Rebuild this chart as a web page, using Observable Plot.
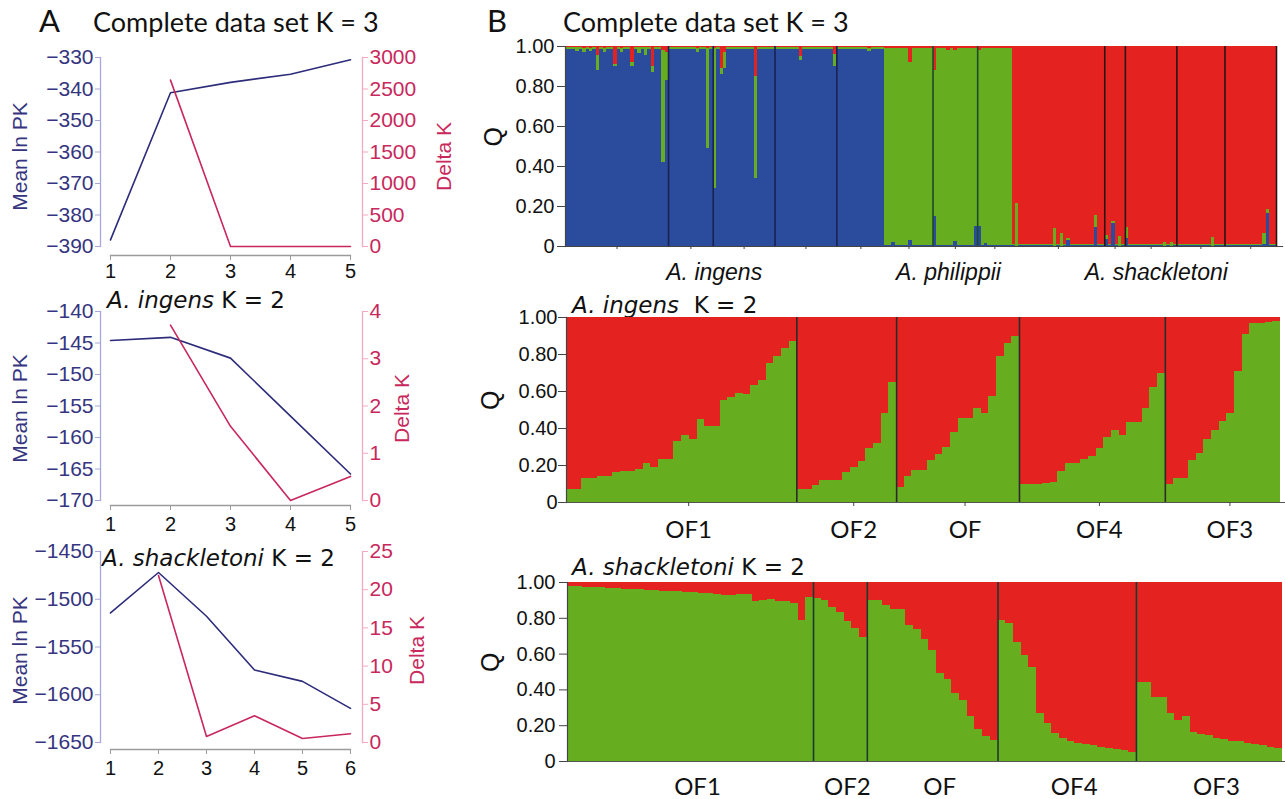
<!DOCTYPE html>
<html><head><meta charset="utf-8">
<script src="https://cdn.jsdelivr.net/npm/d3@7"></script>
<script src="https://cdn.jsdelivr.net/npm/@observablehq/plot@0.6"></script>
<style>
body{margin:0;background:#fff;}
#root{position:relative;width:1285px;height:799px;overflow:hidden;font-family:"Liberation Sans",Arial,sans-serif;}
.t{position:absolute;white-space:nowrap;line-height:1;color:#111;}
.lato{font-family:Lato,"Open Sans",sans-serif;}
.dv{font-family:"DejaVu Sans",sans-serif;}
</style></head><body>
<div id="root">
<div class="t lato" style="left:39px;top:5px;font-size:31px">A</div>
<div class="t lato" style="left:93px;top:8px;font-size:27px">Complete data set K = 3</div>
<div class="t dv" style="left:107px;top:289px;font-size:23px"><i>A. ingens</i> K = 2</div>
<div class="t dv" style="left:102px;top:547px;font-size:23px"><i>A. shackletoni</i> K = 2</div>
<div class="t lato" style="left:487px;top:5px;font-size:31px">B</div>
<div class="t lato" style="left:563px;top:8px;font-size:27px">Complete data set K = 3</div>
<div class="t dv" style="left:572px;top:294px;font-size:23px"><i>A. ingens</i>&nbsp;&nbsp;K = 2</div>
<div class="t dv" style="left:572px;top:556px;font-size:23px"><i>A. shackletoni</i> K = 2</div>
</div>
<script>
// ---------- Panel A data ----------
const a1K = [1, 2, 3, 4, 5];
const a1MeanLnPK = [-387.9, -341.2, -337.9, -335.3, -330.7];
const a1DeltaK = [null, 2641, 0, 0, 0];
const a1MeanTicks = [-390, -380, -370, -360, -350, -340, -330];
const a1DeltaTicks = [0, 500, 1000, 1500, 2000, 2500, 3000];

const a2K = [1, 2, 3, 4, 5];
const a2MeanLnPK = [-144.6, -144.1, -147.4, -156.6, -165.8];
const a2DeltaK = [null, 3.71, 1.57, 0.0, 0.51];
const a2MeanTicks = [-170, -165, -160, -155, -150, -145, -140];
const a2DeltaTicks = [0, 1, 2, 3, 4];

const a3K = [1, 2, 3, 4, 5, 6];
const a3MeanLnPK = [-1514.3, -1472, -1517.8, -1574, -1586, -1614.3];
const a3DeltaK = [null, 21.85, 0.79, 3.5, 0.52, 1.14];
const a3MeanTicks = [-1650, -1600, -1550, -1500, -1450];
const a3DeltaTicks = [0, 5, 10, 15, 20, 25];

// ---------- Panel B data ----------
const clusterNames = ["Cluster 1", "Cluster 2", "Cluster 3"];
const clusterColors = ["#2b4c9c", "#66ae1f", "#e42320"];
const qTicks = [0, 0.2, 0.4, 0.6, 0.8, 1];
const qTickLabels = ["0", "0.20", "0.40", "0.60", "0.80", "1.00"];

// B1: complete data set K = 3 (Q for cluster 1 blue, 2 green, 3 red)
const b1Species = ["A. ingens", "A. philippii", "A. shackletoni"];
const b1PopSizes = [[30, 13, 18, 18, 14], [14, 13, 10], [27, 6, 15, 14, 15]];
const b1PureQ = [[0.985, 0.01, 0.005], [0.006, 0.984, 0.01], [0.004, 0.006, 0.99]];
const b1IngensAdmixed = [
  [3, 0.975, 0.02, 0.005], [5, 0.97, 0.02, 0.01], [7, 0.975, 0.015, 0.01],
  [9, 0.88, 0.075, 0.045], [11, 0.97, 0.02, 0.01], [14, 0.90, 0.01, 0.09],
  [16, 0.97, 0.02, 0.01], [19, 0.90, 0.02, 0.08], [21, 0.963, 0.03, 0.007],
  [23, 0.955, 0.04, 0.005], [25, 0.87, 0.03, 0.10], [28, 0.42, 0.56, 0.02],
  [29, 0.83, 0.14, 0.03], [38, 0.97, 0.02, 0.01], [41, 0.49, 0.50, 0.01],
  [43, 0.29, 0.70, 0.01], [45, 0.86, 0.03, 0.11], [46, 0.89, 0.08, 0.03],
  [55, 0.34, 0.51, 0.15], [68, 0.93, 0.02, 0.05], [78, 0.90, 0.06, 0.04],
  [88, 0.975, 0.015, 0.01]
];
const b1PhilippiiAdmixed = [
  [2, 0.02, 0.97, 0.01], [7, 0.03, 0.89, 0.08], [14, 0.15, 0.73, 0.12],
  [18, 0.005, 0.975, 0.02], [20, 0.025, 0.955, 0.02], [26, 0.10, 0.89, 0.01],
  [27, 0.10, 0.88, 0.02], [29, 0.015, 0.975, 0.01]
];
const b1ShackletoniAdmixed = [
  [1, 0.0, 0.217, 0.783], [12, 0.0, 0.088, 0.912], [14, 0.0, 0.067, 0.933],
  [16, 0.03, 0.01, 0.96], [24, 0.097, 0.058, 0.845], [27, 0.033, 0.02, 0.947],
  [29, 0.113, 0.01, 0.877], [31, 0.0, 0.05, 0.95], [33, 0.038, 0.058, 0.904],
  [44, 0.0, 0.02, 0.98], [46, 0.0, 0.02, 0.98], [58, 0.0, 0.043, 0.957],
  [73, 0.01, 0.057, 0.933], [74, 0.167, 0.017, 0.816]
];
const b1Admixed = [b1IngensAdmixed, b1PhilippiiAdmixed, b1ShackletoniAdmixed];
const b1SeparatorColors = ["#1a2252", "#1d4a2c", "#2a1414"];

// B2: A. ingens K = 2 (green Q per individual; red = 1 - green)
const b2Pops = ["OF1", "OF2", "OF", "OF4", "OF3"];
const b2Green = [
  [0.07, 0.07, 0.13, 0.13, 0.14, 0.14, 0.16, 0.17, 0.17, 0.18, 0.21, 0.19, 0.23, 0.23, 0.33,
   0.36, 0.34, 0.45, 0.41, 0.41, 0.55, 0.57, 0.59, 0.585, 0.63, 0.66, 0.75, 0.79, 0.83, 0.87],
  [0.07, 0.07, 0.09, 0.12, 0.12, 0.12, 0.16, 0.19, 0.22, 0.29, 0.32, 0.48, 0.65],
  [0.08, 0.14, 0.175, 0.175, 0.225, 0.26, 0.30, 0.38, 0.455, 0.455, 0.51, 0.48, 0.575, 0.79, 0.86, 0.90],
  [0.10, 0.10, 0.10, 0.105, 0.11, 0.17, 0.21, 0.21, 0.23, 0.25, 0.29, 0.35, 0.39, 0.36, 0.43, 0.43, 0.51, 0.62, 0.70],
  [0.10, 0.13, 0.13, 0.225, 0.265, 0.34, 0.39, 0.44, 0.48, 0.71, 0.91, 0.97, 0.97, 0.975, 0.98]
];

// B3: A. shackletoni K = 2
const b3Pops = ["OF1", "OF2", "OF", "OF4", "OF3"];
const b3Green = [
  [0.975, 0.975, 0.97, 0.97, 0.97, 0.965, 0.965, 0.96, 0.96, 0.96, 0.955, 0.955, 0.95, 0.95, 0.95, 0.945,
   0.945, 0.94, 0.94, 0.935, 0.93, 0.925, 0.935, 0.935, 0.895, 0.90, 0.905, 0.895, 0.895, 0.885, 0.785, 0.915],
  [0.91, 0.90, 0.86, 0.83, 0.78, 0.745, 0.69],
  [0.90, 0.90, 0.87, 0.85, 0.85, 0.76, 0.74, 0.68, 0.62, 0.49, 0.46, 0.38, 0.34, 0.25, 0.18, 0.14, 0.12],
  [0.79, 0.77, 0.665, 0.59, 0.526, 0.266, 0.21, 0.155, 0.126, 0.11, 0.10, 0.095, 0.09, 0.08, 0.075, 0.065, 0.06, 0.05],
  [0.44, 0.44, 0.36, 0.36, 0.27, 0.23, 0.25, 0.16, 0.15, 0.145, 0.13, 0.125, 0.11, 0.11, 0.10, 0.095, 0.09, 0.08, 0.075]
];

// ---------- helpers ----------
const root = document.getElementById("root");
const FONT = "Liberation Sans, Arial, sans-serif";
const navyText = "#35357f", navyLine = "#2d2c7a", crimson = "#c8285c", lavender = "#a7a7dc", pink = "#f2a9c1";
const minusFmt = d => d < 0 ? "\u2212" + Math.abs(d) : String(d);

function place(svg, left, top) {
  svg.style.position = "absolute";
  svg.style.left = left + "px";
  svg.style.top = top + "px";
  svg.style.background = "transparent";
  svg.style.overflow = "visible";
  svg.style.maxWidth = "none";
  root.appendChild(svg);
}

function dualChart(c) {
  const W = 460;
  const meanData = c.K.map((k, i) => ({k, v: c.mean[i]}));
  const deltaData = c.K.map((k, i) => ({k, v: c.delta[i]}));
  const xs = {domain: [c.K[0], c.K[c.K.length - 1]], insetLeft: 10, insetRight: 12};
  const base = {width: W, height: c.height, marginLeft: 100, marginRight: 98, marginTop: c.mt, marginBottom: c.mb,
    style: {fontFamily: FONT, background: "transparent"}};
  const p1 = Plot.plot({...base, x: xs,
    y: {domain: [c.meanTicks[0], c.meanTicks[c.meanTicks.length - 1]], insetBottom: c.inset},
    marks: [
      Plot.frame({anchor: "left", stroke: lavender, strokeWidth: 1.3, insetBottom: c.inset}),
      Plot.frame({anchor: "bottom", stroke: "#9b9b9b", strokeWidth: 1.3, insetLeft: 10, insetRight: 12}),
      Plot.axisY({ticks: c.meanTicks, tickFormat: minusFmt, tickSize: 5, tickPadding: 2, fontSize: 21,
        stroke: lavender, fill: navyText, label: "Mean ln PK", labelAnchor: "center", labelOffset: 88, labelArrow: "none"}),
      Plot.axisX({ticks: c.K, tickFormat: d => String(d), tickSize: 5, tickPadding: c.xpad, fontSize: 20,
        stroke: "#9b9b9b", fill: "#111", label: null}),
      Plot.lineY(meanData, {x: "k", y: "v", stroke: navyLine, strokeWidth: 1.6})
    ]});
  const p2 = Plot.plot({...base, x: {...xs, axis: null},
    y: {domain: [0, c.deltaTicks[c.deltaTicks.length - 1]], insetBottom: c.inset},
    marks: [
      Plot.frame({anchor: "right", stroke: pink, strokeWidth: 1.3, insetBottom: c.inset}),
      Plot.axisY({anchor: "right", ticks: c.deltaTicks, tickFormat: d => String(d), tickSize: 5, tickPadding: 2, fontSize: 21,
        stroke: pink, fill: crimson, label: "Delta K", labelAnchor: "center", labelOffset: c.dlo, labelArrow: "none"}),
      Plot.lineY(deltaData, {x: "k", y: "v", stroke: crimson, strokeWidth: 1.6})
    ]});
  place(p1, 0, c.top);
  place(p2, 0, c.top);
  p2.style.pointerEvents = "none";
}

dualChart({K: a1K, mean: a1MeanLnPK, delta: a1DeltaK, meanTicks: a1MeanTicks, deltaTicks: a1DeltaTicks,
  top: 0, height: 290, mt: 57, mb: 35, inset: 9, xpad: 3, dlo: 88});
dualChart({K: a2K, mean: a2MeanLnPK, delta: a2DeltaK, meanTicks: a2MeanTicks, deltaTicks: a2DeltaTicks,
  top: 280, height: 260, mt: 31, mb: 35, inset: 5, xpad: 6, dlo: 46});
dualChart({K: a3K, mean: a3MeanLnPK, delta: a3DeltaK, meanTicks: a3MeanTicks, deltaTicks: a3DeltaTicks,
  top: 530, height: 269, mt: 21, mb: 50, inset: 7, xpad: 6, dlo: 61});

function stackRects(x, q, out) {
  let acc = 0;
  q.forEach((v, j) => {
    out.push({x1: x, x2: x + 1, y1: acc, y2: acc + v, c: clusterNames[j]});
    acc += v;
  });
}

function yAxisQ(tickSize, tickPadding, qdx) {
  return [
    Plot.axisY({ticks: qTicks, tickFormat: d => qTickLabels[qTicks.indexOf(d)], tickSize, tickPadding,
      fontSize: 20, stroke: "#444", fill: "#111", label: null}),
    Plot.text(["Q"], {frameAnchor: "left", dx: qdx, rotate: -90, fontSize: 25, fill: "#111", fontFamily: FONT})
  ];
}

// ----- B1 -----
(function () {
  const rects = [], seps = [], popMids = [], spMids = [];
  let x = 0;
  b1Species.forEach((sp, s) => {
    const n = d3.sum(b1PopSizes[s]);
    const adm = new Map(b1Admixed[s].map(r => [r[0], r.slice(1)]));
    for (let i = 0; i < n; i++) stackRects(x + i, adm.get(i) || b1PureQ[s], rects);
    let p = x;
    b1PopSizes[s].forEach((m, k) => {
      popMids.push(p + m / 2);
      p += m;
      if (k < b1PopSizes[s].length - 1 || s === b1Species.length - 1) seps.push({x: p, s});
    });
    spMids.push(x + n / 2);
    x += n;
  });
  const N = x;
  const spDx = [-11, 0, 12];
  const p = Plot.plot({
    width: 805, height: 290, marginLeft: 85, marginRight: 3, marginTop: 46, marginBottom: 44,
    style: {fontFamily: FONT, background: "transparent"},
    x: {domain: [0, N], insetRight: 6},
    y: {domain: [0, 1]},
    color: {domain: clusterNames, range: clusterColors},
    marks: [
      Plot.rect(rects, {x1: "x1", x2: "x2", y1: "y1", y2: "y2", fill: "c", shapeRendering: "crispEdges"}),
      Plot.ruleX(seps, {x: "x", y1: 0, y2: 1, stroke: d => b1SeparatorColors[d.s], strokeWidth: 1.6}),
      Plot.frame({anchor: "left", stroke: "#444", strokeWidth: 1.2}),
      Plot.frame({anchor: "bottom", stroke: "#444", strokeWidth: 1.2}),
      ...yAxisQ(8, 3, -72),
      Plot.axisX({ticks: popMids, tickFormat: () => "", tickSize: 3, stroke: "#444", label: null}),
      ...spMids.map((m, i) => Plot.axisX({ticks: [m], tickFormat: () => b1Species[i], tickSize: 0, tickPadding: 17,
        dx: spDx[i], fontSize: 23, fontStyle: "italic", fill: "#111", label: null}))
    ]
  });
  place(p, 480, 0);
})();

function k2Chart(pops, green, cfg) {
  const rects = [], seps = [], mids = [];
  let x = 0;
  green.forEach((arr, k) => {
    arr.forEach((g, i) => stackRects(x + i, [0, g, 1 - g], rects));
    mids.push(x + arr.length / 2);
    x += arr.length;
    if (k < green.length - 1) seps.push(x);
  });
  const N = x;
  const lab = new Map(mids.map((m, i) => [m, pops[i]]));
  const p = Plot.plot({
    width: 805, height: cfg.height, marginLeft: cfg.ml, marginRight: 0, marginTop: cfg.mt, marginBottom: cfg.mb,
    style: {fontFamily: FONT, background: "transparent"},
    x: {domain: [0, N], insetRight: cfg.insetRight},
    y: {domain: [0, 1]},
    color: {domain: clusterNames, range: clusterColors},
    marks: [
      Plot.rect(rects.filter(r => r.y2 > r.y1), {x1: "x1", x2: "x2", y1: "y1", y2: "y2", fill: "c", shapeRendering: "crispEdges"}),
      Plot.ruleX(seps, {y1: 0, y2: 1, stroke: cfg.sepColor, strokeWidth: 1.6}),
      Plot.frame({anchor: "left", stroke: "#444", strokeWidth: 1.2}),
      Plot.frame({anchor: "bottom", stroke: "#555", strokeWidth: 1.2}),
      ...yAxisQ(8, cfg.ypad, cfg.qdx),
      Plot.axisX({ticks: mids, tickFormat: d => lab.get(d), tickSize: cfg.tickSize, tickPadding: cfg.xpad, dx: 7,
        fontSize: 24, fontFamily: "Lato, Open Sans, sans-serif", stroke: "#444", fill: "#111", label: null})
    ]
  });
  place(p, 480, cfg.top);
}

k2Chart(b2Pops, b2Green, {top: 290, height: 250, ml: 86, mt: 27, mb: 38, insetRight: 5,
  sepColor: "#2b2b2b", ypad: 1, qdx: -76, tickSize: 4, xpad: 14});
k2Chart(b3Pops, b3Green, {top: 545, height: 254, ml: 87, mt: 37, mb: 38, insetRight: 3,
  sepColor: "#1b3a30", ypad: 4, qdx: -77, tickSize: 0, xpad: 16});
</script>
</body></html>
